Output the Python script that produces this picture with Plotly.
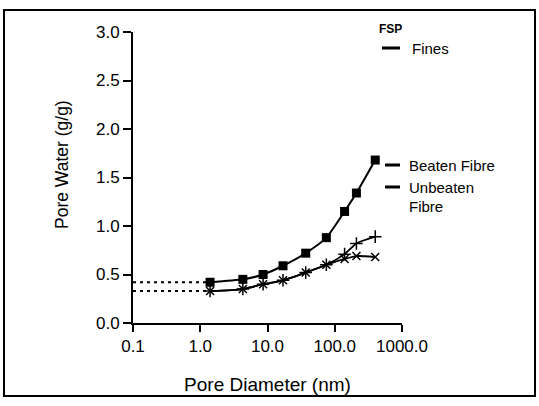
import plotly.graph_objects as go

# Data
pore_diameter = [1.4, 4.3, 8.6, 17, 37, 75, 140, 210, 400]
fines = [0.42, 0.45, 0.50, 0.59, 0.72, 0.88, 1.15, 1.34, 1.68]
beaten_fibre = [0.33, 0.35, 0.40, 0.44, 0.52, 0.60, 0.71, 0.82, 0.89]
unbeaten_fibre = [0.33, 0.35, 0.40, 0.44, 0.52, 0.60, 0.66, 0.69, 0.68]
extrap_x = [0.1, 1.4]
x_tickvals = [0.1, 1, 10, 100, 1000]
x_ticktext = ["0.1", "1.0", "10.0", "100.0", "1000.0"]
y_tickvals = [0, 0.5, 1.0, 1.5, 2.0, 2.5, 3.0]
y_ticktext = ["0.0", "0.5", "1.0", "1.5", "2.0", "2.5", "3.0"]

W, H = 539, 406
L, R, T, B = 133, 402, 32, 323

def px(x):
    return (x - L) / (R - L)

def py(y):
    return (B - y) / (B - T)

fig = go.Figure()

# dotted extrapolation lines to the axis
fig.add_trace(go.Scatter(x=extrap_x, y=[fines[0], fines[0]], mode="lines",
                         line=dict(color="black", width=2, dash="3px,4px"),
                         showlegend=False, hoverinfo="skip"))
fig.add_trace(go.Scatter(x=extrap_x, y=[unbeaten_fibre[0], unbeaten_fibre[0]], mode="lines",
                         line=dict(color="black", width=2, dash="3px,4px"),
                         showlegend=False, hoverinfo="skip"))

fig.add_trace(go.Scatter(x=pore_diameter, y=fines, mode="lines+markers", name="Fines",
                         line=dict(color="black", width=2, shape="spline", smoothing=0.6),
                         marker=dict(symbol="square", size=9, color="black")))
fig.add_trace(go.Scatter(x=pore_diameter, y=beaten_fibre, mode="lines+markers", name="Beaten Fibre",
                         line=dict(color="black", width=1.8, shape="spline", smoothing=0.6),
                         marker=dict(symbol="cross-thin", size=9,
                                     line=dict(color="black", width=1.5))))
fig.add_trace(go.Scatter(x=pore_diameter, y=unbeaten_fibre, mode="lines+markers", name="Unbeaten Fibre",
                         line=dict(color="black", width=1.8, shape="spline", smoothing=0.6),
                         marker=dict(symbol="x-thin", size=8,
                                     line=dict(color="black", width=1.5))))

font = "Liberation Sans, Arial, sans-serif"

fig.update_layout(
    width=W, height=H,
    margin=dict(l=L, r=W - R, t=T, b=H - B),
    paper_bgcolor="white", plot_bgcolor="white",
    showlegend=False,
    font=dict(family=font, color="black"),
    xaxis=dict(type="log", range=[-1, 3], tickvals=x_tickvals, ticktext=x_ticktext,
               showgrid=False, zeroline=False, showline=True, linecolor="black", linewidth=2,
               ticks="outside", ticklen=7, tickwidth=2, tickcolor="black",
               tickfont=dict(size=17, family=font),
               title=dict(text="Pore Diameter (nm)", font=dict(size=19, family=font), standoff=22)),
    yaxis=dict(range=[0, 3], tickvals=y_tickvals, ticktext=y_ticktext,
               showgrid=False, zeroline=False, showline=True, linecolor="black", linewidth=2,
               ticks="outside", ticklen=8, tickwidth=2, tickcolor="black",
               tickfont=dict(size=17, family=font)),
)

shapes = []
# figure border
shapes.append(dict(type="rect", xref="paper", yref="paper",
                   x0=px(4), x1=px(535), y0=py(396), y1=py(10),
                   line=dict(color="black", width=2)))
# legend dashes
for (x0, x1, y) in [(382, 400, 48), (385, 400, 165), (385, 400, 187)]:
    shapes.append(dict(type="line", xref="paper", yref="paper",
                       x0=px(x0), x1=px(x1), y0=py(y), y1=py(y),
                       line=dict(color="black", width=3)))
fig.update_layout(shapes=shapes)

annotations = [
    dict(text="<b>FSP</b>", x=px(377), y=py(29), font=dict(size=12, family=font)),
    dict(text="Fines", x=px(410), y=py(48), font=dict(size=15, family=font)),
    dict(text="Beaten Fibre", x=px(407), y=py(165), font=dict(size=15, family=font)),
    dict(text="Unbeaten", x=px(407), y=py(187), font=dict(size=15, family=font)),
    dict(text="Fibre", x=px(407), y=py(206), font=dict(size=15, family=font)),
]
for a in annotations:
    a.update(xref="paper", yref="paper", xanchor="left", yanchor="middle", showarrow=False)
annotations.append(dict(text="Pore Water (g/g)", x=px(62), y=py(165), xref="paper", yref="paper",
                        xanchor="center", yanchor="middle", textangle=-90, showarrow=False,
                        font=dict(size=17.5, family=font)))
fig.update_layout(annotations=annotations)

fig.write_html("out.html")
